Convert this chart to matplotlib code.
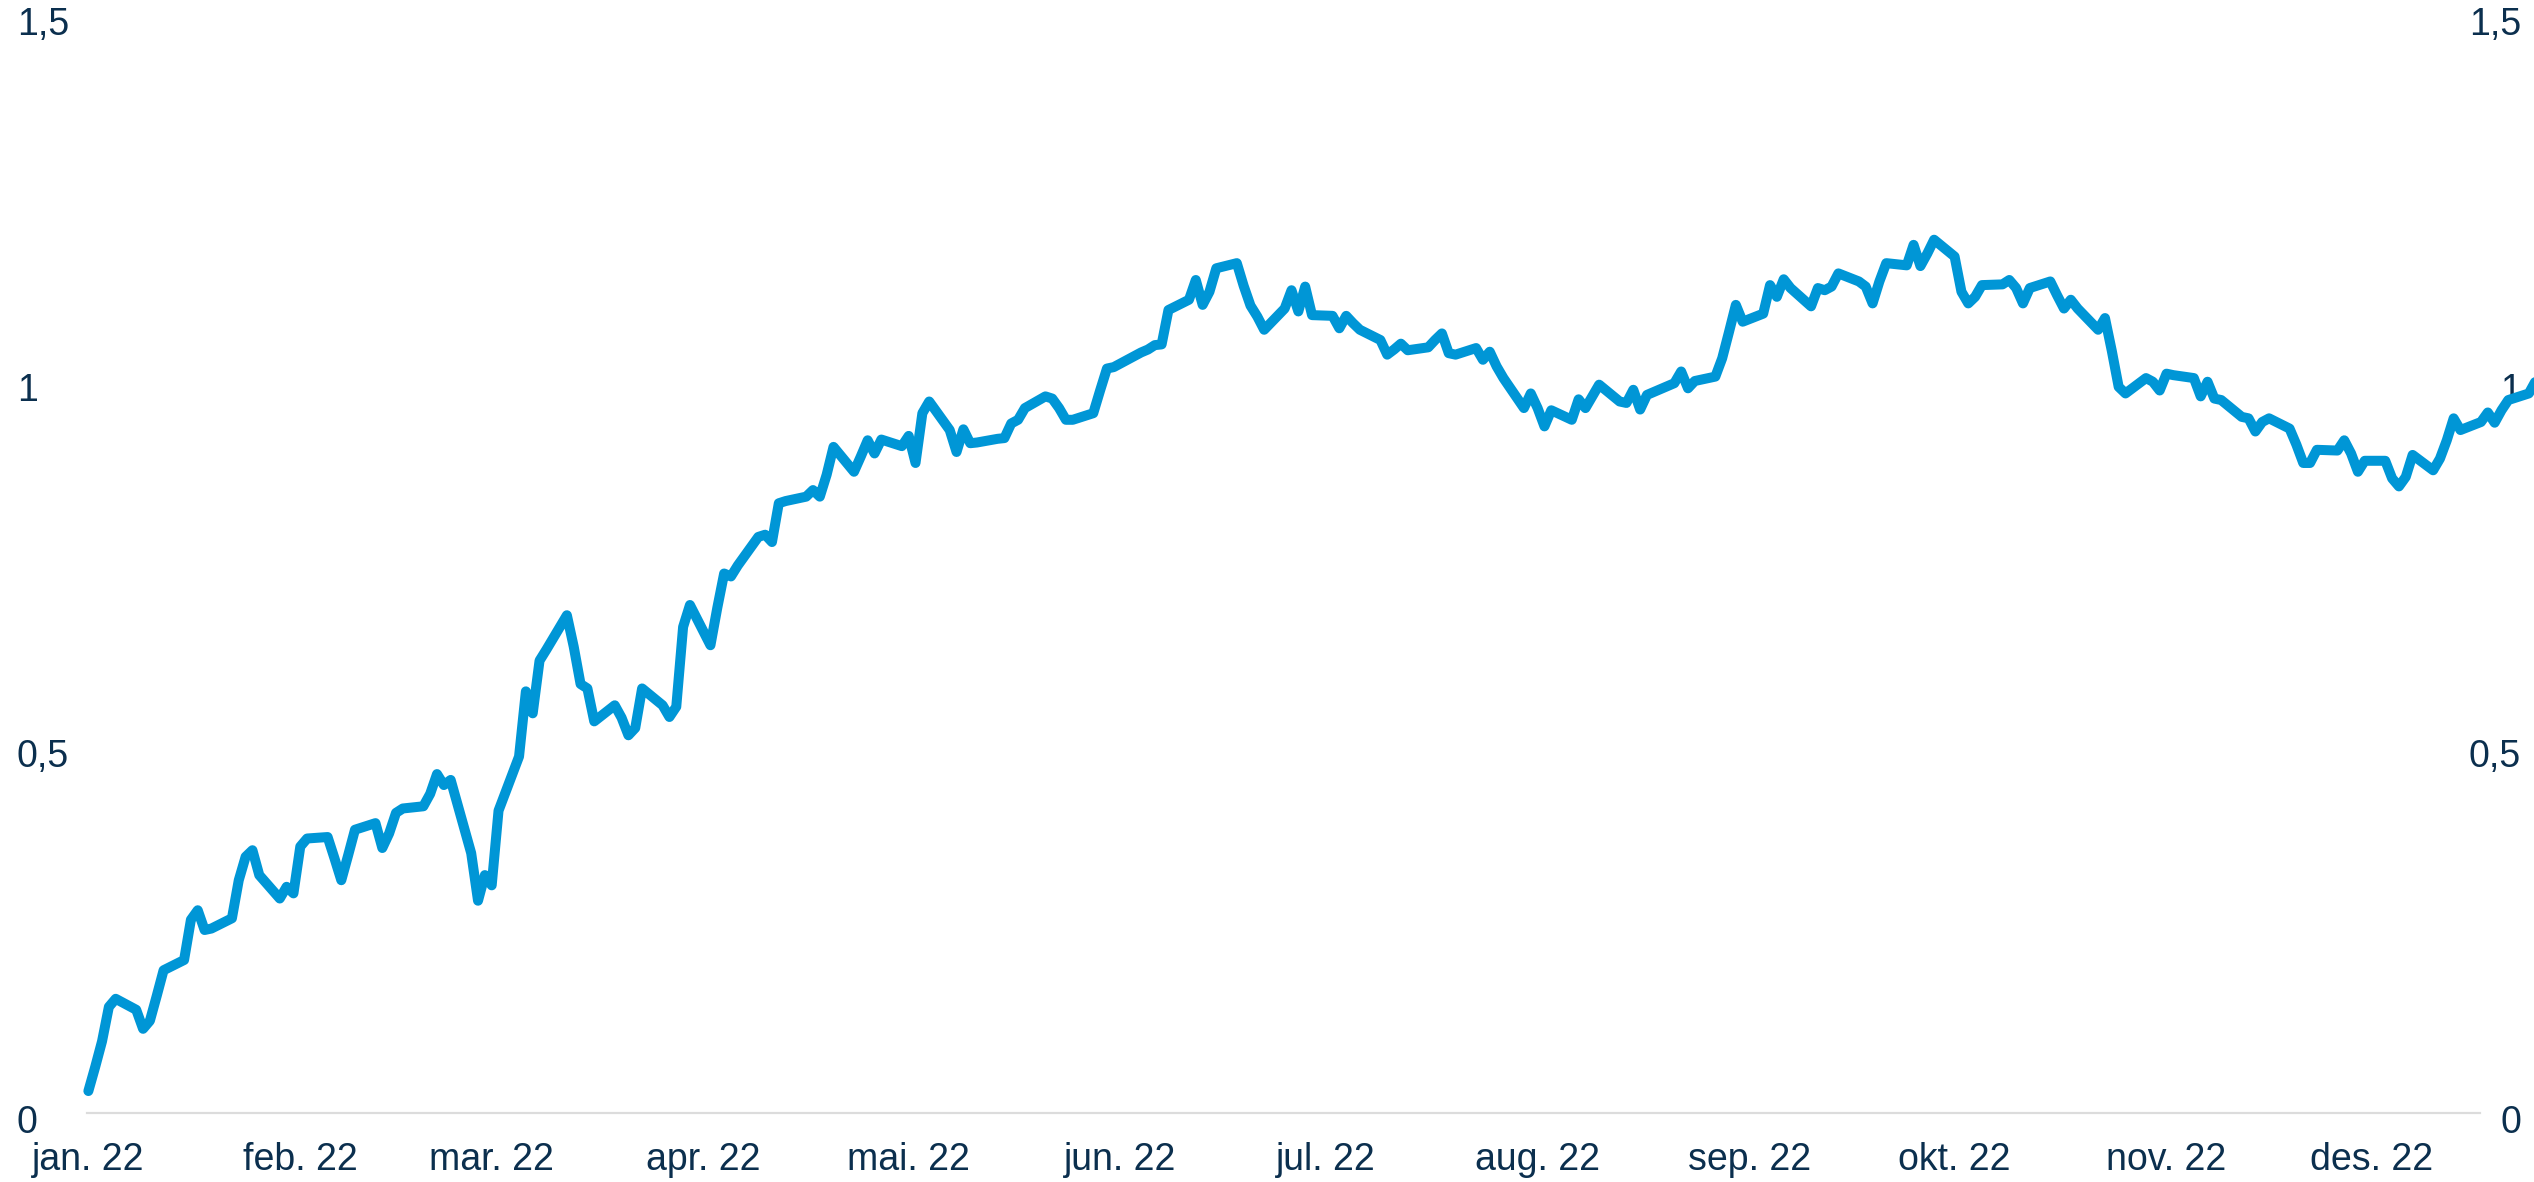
import pandas as pd
import matplotlib
matplotlib.use('Agg')
import matplotlib.pyplot as plt
import matplotlib.dates as mdates
from matplotlib.transforms import blended_transform_factory

# daily values (business days from 3 Jan 2022), one row per week
values = [
    0.030, 0.063, 0.098, 0.145, 0.156,
    0.141, 0.115, 0.126, 0.160, 0.195,
    0.209, 0.264, 0.277, 0.250, 0.252,
    0.266, 0.318, 0.350, 0.359, 0.325,
    0.293, 0.309, 0.300, 0.364, 0.375,
    0.377, 0.348, 0.318, 0.352, 0.387,
    0.396, 0.362, 0.382, 0.410, 0.416,
    0.419, 0.436, 0.463, 0.448, 0.455,
    0.355, 0.290, 0.325, 0.311, 0.413,
    0.487, 0.576, 0.546, 0.618, 0.633,
    0.680, 0.637, 0.586, 0.580, 0.535,
    0.557, 0.540, 0.516, 0.526, 0.580,
    0.557, 0.541, 0.555, 0.664, 0.694,
    0.639, 0.690, 0.737, 0.733, 0.748,
    0.787, 0.790, 0.780, 0.833, 0.836,
    0.842, 0.851, 0.842, 0.872, 0.910,
    0.876, 0.897, 0.919, 0.901, 0.920,
    0.911, 0.925, 0.888, 0.956, 0.972,
    0.933, 0.903, 0.934, 0.915, 0.916,
    0.921, 0.922, 0.942, 0.947, 0.963,
    0.979, 0.976, 0.963, 0.947, 0.947,
    0.956, 0.987, 1.017, 1.019, 1.024,
    1.039, 1.043, 1.049, 1.050, 1.097,
    1.111, 1.138, 1.104, 1.122, 1.154,
    1.161, 1.130, 1.103, 1.088, 1.070,
    1.099, 1.124, 1.095, 1.129, 1.090,
    1.089, 1.072, 1.089, 1.079, 1.070,
    1.056, 1.036, 1.043, 1.051, 1.042,
    1.046, 1.056, 1.065, 1.038, 1.036,
    1.045, 1.029, 1.040, 1.020, 1.004,
    0.963, 0.983, 0.963, 0.938, 0.960,
    0.947, 0.975, 0.963, 0.979, 0.995,
    0.972, 0.970, 0.988, 0.961, 0.981,
    0.993, 0.997, 1.013, 0.990, 1.000,
    1.006, 1.031, 1.067, 1.104, 1.081,
    1.092, 1.131, 1.115, 1.139, 1.127,
    1.102, 1.127, 1.124, 1.129, 1.147,
    1.136, 1.129, 1.106, 1.136, 1.161,
    1.158, 1.186, 1.157, 1.174, 1.193,
    1.170, 1.122, 1.106, 1.115, 1.131,
    1.132, 1.138, 1.127, 1.106, 1.127,
    1.136, 1.117, 1.099, 1.111, 1.099,
    1.070, 1.086, 1.041, 0.992, 0.983,
    1.004, 0.999, 0.987, 1.010, 1.008,
    1.004, 0.979, 0.999, 0.976, 0.974,
    0.951, 0.949, 0.931, 0.944, 0.949,
    0.935, 0.913, 0.888, 0.888, 0.906,
    0.905, 0.919, 0.901, 0.876, 0.891,
    0.891, 0.867, 0.856, 0.869, 0.899,
    0.878, 0.894, 0.919, 0.949, 0.933,
    0.944, 0.957, 0.943, 0.960, 0.974,
    0.983, 1.000,
]
dates = pd.bdate_range('2022-01-03', periods=len(values))

month_labels = ['jan. 22', 'feb. 22', 'mar. 22', 'apr. 22', 'mai. 22', 'jun. 22',
                'jul. 22', 'aug. 22', 'sep. 22', 'okt. 22', 'nov. 22', 'des. 22']
month_starts = pd.date_range('2022-01-01', periods=12, freq='MS')
y_ticks = [0, 0.5, 1, 1.5]
y_labels = ['0', '0,5', '1', '1,5']

W, H = 2534, 1182
x0_px, px_per_day = 74.7, 6.836   # where 1 Jan falls, width of one day
y0_px, px_per_unit = 1113, 732

navy = '#0b2f4e'
blue = '#0096d6'
plt.rcParams['font.family'] = ['Liberation Sans', 'DejaVu Sans']

fig = plt.figure(figsize=(W / 100, H / 100), dpi=100)
ax = fig.add_axes([0, 0, 1, 1])
ax.axis('off')

origin = mdates.date2num(pd.Timestamp('2022-01-01'))
ax.set_xlim(origin - x0_px / px_per_day, origin + (W - x0_px) / px_per_day)
ax.set_ylim((y0_px - H) / px_per_unit, y0_px / px_per_unit)

ax.axhline(0, xmin=87 / W, xmax=2480 / W, color='#dcdcdc', lw=1.6, zorder=2)
ax.plot(mdates.date2num(dates), values, color=blue, lw=7.2,
        solid_joinstyle='round', solid_capstyle='round', zorder=3)

blend = blended_transform_factory(ax.transAxes, ax.transData)
for v, lab in zip(y_ticks, y_labels):
    yb = v - 20 / px_per_unit
    ax.text(17 / W, yb, lab, transform=blend, ha='left', va='baseline',
            fontsize=27, color=navy, zorder=1)
    ax.text(2521 / W, yb, lab, transform=blend, ha='right', va='baseline',
            fontsize=27, color=navy, zorder=1)

for m, lab in zip(month_starts, month_labels):
    ax.text(mdates.date2num(m) + 2, -57 / px_per_unit, lab, ha='center',
            va='baseline', fontsize=27, color=navy)

fig.savefig('out.png', dpi=100)
